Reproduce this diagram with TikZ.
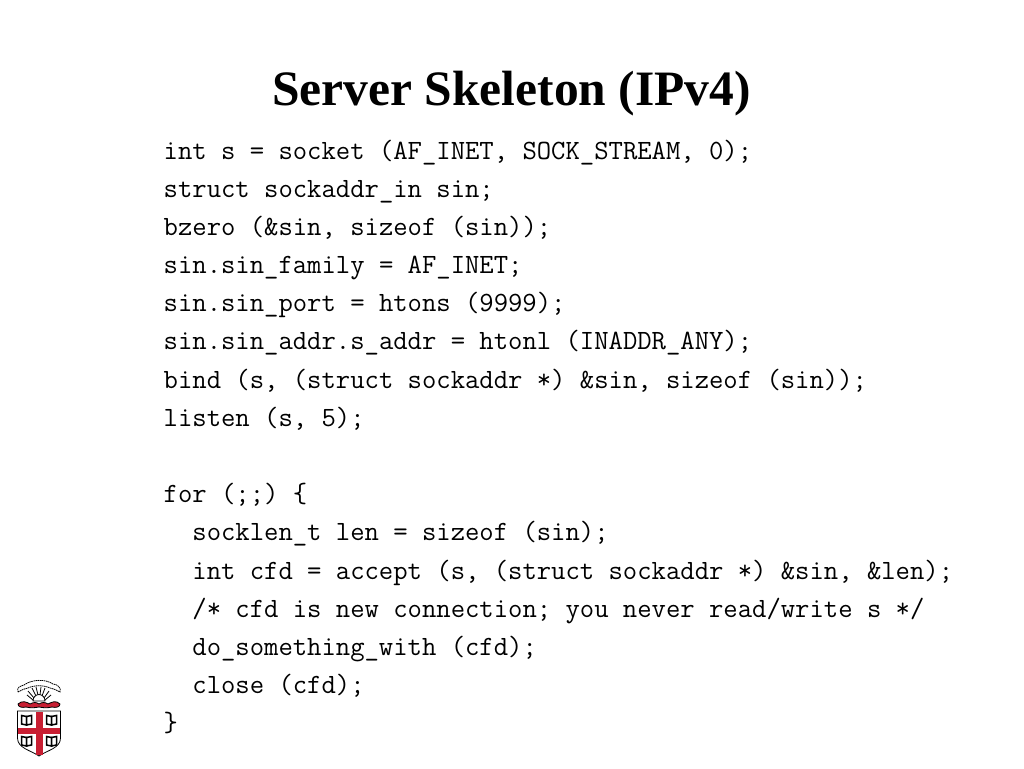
\documentclass[tikz,border=0pt]{standalone}
\usepackage{fontspec}
\setmainfont{Liberation Serif}
\setmonofont{Latin Modern Mono}
\definecolor{crestred}{RGB}{200, 30, 50}
\tikzset{
	titleline/.style = {anchor = base, inner sep = 0pt, font = \fontsize{49.5}{54}\selectfont\bfseries},
	codeline/.style = {anchor = base west, inner sep = 0pt, font = \fontsize{27.87}{38}\selectfont\ttfamily},
	bookline/.style = {draw = black, line width = 1.5pt, fill = white},
	crestline/.style = {draw = black, line width = 0.8pt}
}
\newcommand{\crestbook}[2]{
	\draw[bookline] (#1-5,#2-4.5) -- (#1,#2-3.5) -- (#1,#2+5) -- (#1-5,#2+4) -- cycle;
	\draw[bookline] (#1+5,#2-4.5) -- (#1,#2-3.5) -- (#1,#2+5) -- (#1+5,#2+4) -- cycle;
}
\begin{document}
\begin{tikzpicture}[x = 1pt, y = -1pt]
	\useasboundingbox (0,0) rectangle (1024,768);
	\node (title) at (511.5,105) [titleline] {Server Skeleton (IPv4)};
	\node (l1) at (163.5,159) [codeline] {int s = socket (AF\_INET, SOCK\_STREAM, 0);};
	\node (l2) at (163.5,197) [codeline] {struct sockaddr\_in sin;};
	\node (l3) at (163.5,235) [codeline] {bzero (\&sin, sizeof (sin));};
	\node (l4) at (163.5,273) [codeline] {sin.sin\_family = AF\_INET;};
	\node (l5) at (163.5,311.5) [codeline] {sin.sin\_port = htons (9999);};
	\node (l6) at (163.5,349.5) [codeline] {sin.sin\_addr.s\_addr = htonl (INADDR\_ANY);};
	\node (l7) at (163.5,388) [codeline] {bind (s, (struct sockaddr *) \&sin, sizeof (sin));};
	\node (l8) at (163.5,426) [codeline] {listen (s, 5);};
	\node (l9) at (163.5,502.5) [codeline] {for (;;) \{};
	\node (l10) at (192.2,540.5) [codeline] {socklen\_t len = sizeof (sin);};
	\node (l11) at (192.2,579) [codeline] {int cfd = accept (s, (struct sockaddr *) \&sin, \&len);};
	\node (l12) at (192.2,617) [codeline] {/* cfd is new connection; you never read/write s */};
	\node (l13) at (192.2,655.5) [codeline] {do\_something\_with (cfd);};
	\node (l14) at (192.2,693.5) [codeline] {close (cfd);};
	\node (l15) at (163.5,731.5) [codeline] {\}};
	% crest
	\draw[crestline, fill = white] (17.5,711) -- (60.5,711) -- (60.5,738) .. controls (60.5,748) and (48,750) .. (39,756) .. controls (30,750) and (17.5,748) .. (17.5,738) -- cycle;
	\fill[crestred] (36,711.5) rectangle (43,755);
	\fill[crestred] (18,728) rectangle (60,734);
	\crestbook{26.5}{720}
	\crestbook{51.5}{720}
	\crestbook{26.5}{741}
	\crestbook{51.5}{741}
	% cloud
	\draw[crestline, dash pattern = on 1.5pt off 0.6pt] (18,692) .. controls (16,687) and (21,686) .. (24,685) .. controls (32,679) and (46,679) .. (53,684) .. controls (57,684) and (62,688) .. (60,692) .. controls (57,690) and (54,689) .. (50,688) .. controls (44,685) and (34,685) .. (28,688) .. controls (24,689) and (21,690) .. (18,692) -- cycle;
	% rays
	\draw[crestline] (27,695) -- (33,700);
	\draw[crestline] (28,691) -- (34,698);
	\draw[crestline] (32,688) -- (36,696);
	\draw[crestline] (36,687) -- (38,695);
	\draw[crestline] (41,687) -- (40,695);
	\draw[crestline] (45,688) -- (42,696);
	\draw[crestline] (49,691) -- (44,698);
	\draw[crestline] (51,695) -- (45,700);
	\draw[crestline, fill = white] (33,701) arc (180:360:6 and 6.5) -- cycle;
	% wreath
	\draw[crestline, fill = crestred] (18,704) .. controls (22,700) and (27,702) .. (30,704) .. controls (34,702) and (36,702) .. (39,704) .. controls (42,702) and (45,702) .. (48,704) .. controls (52,702) and (56,700) .. (60,704) .. controls (60,707) and (56,708) .. (52,707) .. controls (48,708) and (44,708) .. (39,707) .. controls (34,708) and (30,708) .. (26,707) .. controls (22,708) and (18,707) .. (18,704) -- cycle;
\end{tikzpicture}
\end{document}
